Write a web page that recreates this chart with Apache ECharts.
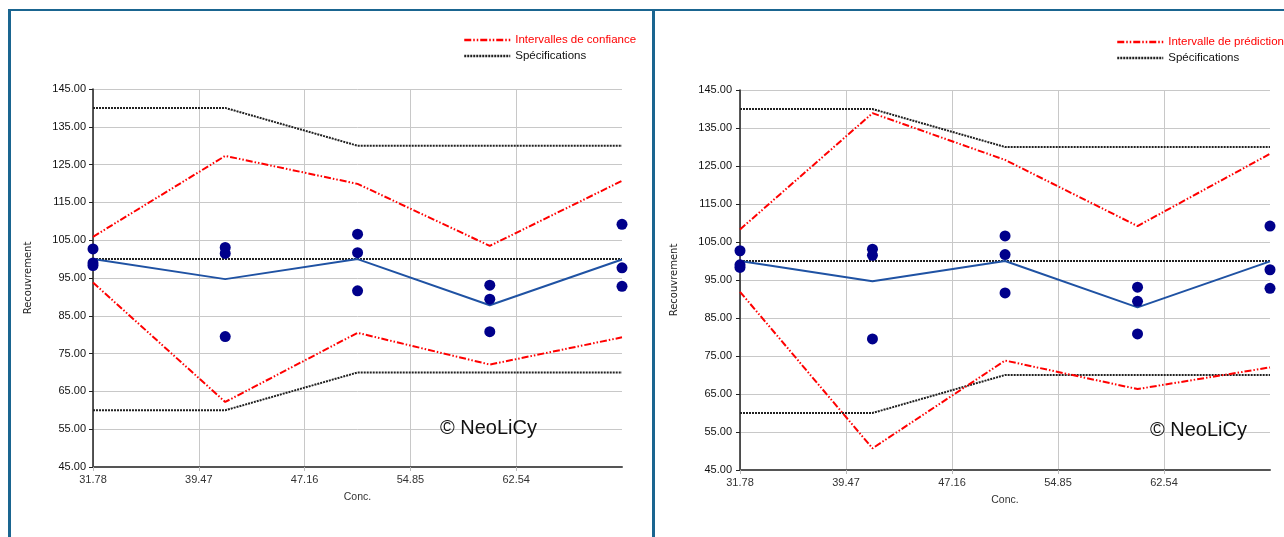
<!DOCTYPE html>
<html><head><meta charset="utf-8">
<script src="https://cdn.jsdelivr.net/npm/echarts@6/dist/echarts.min.js"></script>
<style>html,body{margin:0;padding:0;background:#fff;overflow:hidden}#c{width:1284px;height:537px}</style>
</head><body><div id="c"></div>
<script>
// ---- data ----
const conc       = [31.78, 41.39, 51.01, 60.62, 70.23];
const recovA     = [102.7, 103.1, 106.6, 93.1, 109.2];
const recovB     = [98.3, 101.5, 101.7, 89.4, 97.7];
const recovC     = [99.0, 79.5, 91.6, 80.8, 92.8];
const meanRecov  = [100.0, 94.7, 100.0, 87.8, 99.9];
const ciUpper    = [105.9, 127.3, 119.9, 103.5, 120.7];
const ciLower    = [93.8, 62.2, 80.5, 72.1, 79.3];
const piUpper    = [108.3, 138.9, 126.6, 109.2, 128.2];
const piLower    = [91.9, 50.7, 73.8, 66.3, 72.0];
const specUpper  = [140, 140, 130, 130, 130];
const specTarget = [100, 100, 100, 100, 100];
const specLower  = [60, 60, 70, 70, 70];
const xMin = 31.78, xMax = 70.23, xStep = 7.69;
const yMin = 45, yMax = 145, yStep = 10;
const ciName = 'Intervalles de confiance';
const piName = 'Intervalle de prédiction';
const specName = 'Spécifications';

const pairs = ys => conc.map((x, i) => [x, ys[i]]);
const FONT = '"Liberation Sans", Arial, sans-serif';
const RED_DASH = [7, 2, 1.5, 2, 1.5, 2];
const DOT = [2, 1];

const grids = [
  {left: 93, top: 89, width: 529, height: 378},
  {left: 740, top: 90, width: 530, height: 380}
];

function xAxis(i) {
  return {
    type: 'value', gridIndex: i, min: xMin, max: xMax, interval: xStep,
    name: 'Conc.', nameLocation: 'middle', nameGap: 25,
    nameTextStyle: {fontFamily: FONT, fontSize: 10.5, color: '#333'},
    axisLine: {show: true, lineStyle: {color: '#555', width: 2}},
    axisTick: {show: true, length: 4, lineStyle: {color: '#bbb'}},
    axisLabel: {fontFamily: FONT, fontSize: 11, color: '#333', margin: 7,
      showMaxLabel: false, formatter: v => v.toFixed(2)},
    splitLine: {show: true, showMaxLine: false, lineStyle: {color: '#c8c8c8', width: 1}}
  };
}
function yAxis(i) {
  return {
    type: 'value', gridIndex: i, min: yMin, max: yMax, interval: yStep,
    name: 'Recouvrement', nameLocation: 'middle', nameRotate: 90, nameGap: i ? 61 : 60,
    nameTextStyle: {fontFamily: '"DejaVu Sans", sans-serif', fontSize: 10, color: '#222'},
    axisLine: {show: true, lineStyle: {color: '#222', width: 1.5}},
    axisTick: {show: true, length: 4, inside: false, lineStyle: {color: '#222'}},
    axisLabel: {fontFamily: FONT, fontSize: 11, color: '#111', margin: i ? 8 : 7,
      formatter: v => v.toFixed(2)},
    splitLine: {show: true, lineStyle: {color: '#c8c8c8', width: 1}}
  };
}
function lineSeries(i, name, ys, color, type, width, z) {
  return {
    type: 'line', name, xAxisIndex: i, yAxisIndex: i, data: pairs(ys),
    symbol: 'none', showSymbol: false, clip: false, z,
    lineStyle: {color, type, width}, itemStyle: {color}
  };
}
function panelSeries(i, intName, up, lo) {
  const s = [];
  s.push(lineSeries(i, specName, specUpper, '#222', DOT, 2, 2));
  s.push(lineSeries(i, specName, specTarget, '#222', DOT, 2, 2));
  s.push(lineSeries(i, specName, specLower, '#222', DOT, 2, 2));
  s.push(lineSeries(i, intName, up, '#ff0000', RED_DASH, 2, 3));
  s.push(lineSeries(i, intName, lo, '#ff0000', RED_DASH, 2, 3));
  s.push(lineSeries(i, 'Moyenne', meanRecov, '#1f52a3', 'solid', 2, 4));
  [recovA, recovB, recovC].forEach(r => s.push({
    type: 'scatter', name: 'Recouvrement', xAxisIndex: i, yAxisIndex: i,
    data: pairs(r), symbol: 'circle', symbolSize: 11, clip: false, z: 6,
    itemStyle: {color: '#00008b', opacity: 1}
  }));
  return s;
}
function legend(left, top, intName) {
  return {
    orient: 'vertical', left, top, itemWidth: 46, itemHeight: 12, itemGap: 4,
    itemStyle: {opacity: 0},
    lineStyle: {width: 2.5},
    selectedMode: false, padding: 0,
    textStyle: {fontFamily: FONT, fontSize: 11.5, color: '#111', lineHeight: 12},
    data: [
      {name: intName, textStyle: {color: '#ff0000'}},
      {name: specName}
    ]
  };
}

const border = '#1a6590';
const option = {
  backgroundColor: '#fff',
  animation: false,
  grid: grids,
  xAxis: [xAxis(0), xAxis(1)],
  yAxis: [yAxis(0), yAxis(1)],
  legend: [legend(463, 34, ciName), legend(1116, 36, piName)],
  series: [...panelSeries(0, ciName, ciUpper, ciLower), ...panelSeries(1, piName, piUpper, piLower)],
  graphic: [
    {type: 'rect', left: 8, top: 9, shape: {width: 1284, height: 2}, style: {fill: border}, z: 100, silent: true},
    {type: 'rect', left: 8, top: 9, shape: {width: 3, height: 540}, style: {fill: border}, z: 100, silent: true},
    {type: 'rect', left: 652, top: 9, shape: {width: 3, height: 540}, style: {fill: border}, z: 100, silent: true},
    {type: 'text', left: 440, top: 418, z: 50, style: {text: '© NeoLiCy', font: '20px ' + FONT, fill: '#111'}},
    {type: 'text', left: 1150, top: 420, z: 50, style: {text: '© NeoLiCy', font: '20px ' + FONT, fill: '#111'}}
  ]
};
const chart = echarts.init(document.getElementById('c'), null, {renderer: 'canvas'});
chart.setOption(option);
</script>
</body></html>
